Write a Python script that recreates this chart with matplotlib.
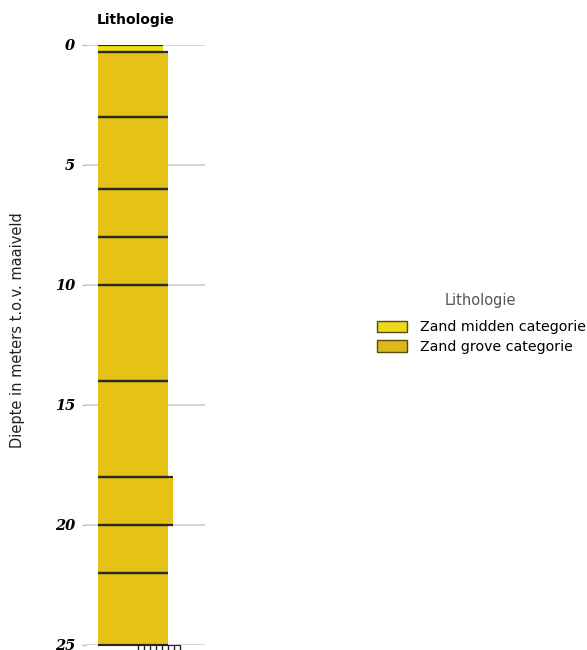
import matplotlib
matplotlib.use("Agg")
import matplotlib.pyplot as plt
from matplotlib.patches import Patch

# layer data: top depth, bottom depth, relative width, lithology
tops    = [0.0, 0.3, 3.0, 6.0, 8.0, 10.0, 14.0, 18.0, 20.0, 22.0]
bottoms = [0.3, 3.0, 6.0, 8.0, 10.0, 14.0, 18.0, 20.0, 22.0, 25.0]
widths  = [2.8, 3.0, 3.0, 3.0, 3.0, 3.0, 3.0, 3.2, 3.0, 3.0]
liths   = ["Zand midden categorie"] + ["Zand grove categorie"] * 9

lith_names  = ["Zand midden categorie", "Zand grove categorie"]
lith_colors = {"Zand midden categorie": "#f2e10c",
               "Zand grove categorie": "#e6c217"}
legend_colors = {"Zand midden categorie": "#ecd81c",
                 "Zand grove categorie": "#dcb81c"}

yticks = [0, 5, 10, 15, 20, 25]
xticks_bottom = [1.7, 1.96, 2.22, 2.48, 2.74, 3.0, 3.26, 3.5]

W, H = 587, 650
fig = plt.figure(figsize=(W/100, H/100), dpi=100)
ax = fig.add_axes([86/W, 1-645/H, (205-86)/W, (645-45)/H])

for t, b, w, l in zip(tops, bottoms, widths, liths):
    ax.fill_between([0, w], t, b, color=lith_colors[l], lw=0, zorder=2)
for t, b, w, l in zip(tops, bottoms, widths, liths):
    ax.hlines([t, b], 0, w, color="#2a2a22", lw=1.6, zorder=3)

ax.set_xlim(-0.51, 4.59)
ax.set_ylim(25, 0)
ax.set_yticks(yticks)
ax.set_yticklabels([str(v) for v in yticks], fontfamily="DejaVu Serif",
                   fontweight="heavy", fontstyle="italic", fontsize=10.5)
ax.tick_params(axis="y", length=3, color="#bbbbbb", pad=5, width=1)
ax.grid(axis="y", color="#cccccc", lw=1.2, zorder=0)
ax.set_axisbelow(True)

for s in ["top", "right", "left"]:
    ax.spines[s].set_visible(False)
ax.spines["bottom"].set_bounds(0, 3.5)
ax.spines["bottom"].set_color("#222222")
ax.spines["bottom"].set_zorder(4)
ax.set_xticks(xticks_bottom)
ax.set_xticklabels([])
ax.tick_params(axis="x", length=4, color="#222222", width=1)

fig.text(97/W, 1-20/H, "Lithologie", fontsize=10, fontweight="heavy",
         ha="left", va="center")
fig.text(18/W, 1-330/H, "Diepte in meters t.o.v. maaiveld", fontsize=10.5,
         rotation=90, ha="center", va="center", color="#222222")

# legend
fig.text(480/W, 1-300/H, "Lithologie", fontsize=10.5, color="#555555",
         ha="center", va="center")
handles = [Patch(facecolor=legend_colors[n], edgecolor="#5a4a10", lw=1)
           for n in lith_names]
leg = fig.legend(handles, lith_names, loc="upper left",
                 bbox_to_anchor=(366/W, 1-309/H), frameon=False,
                 fontsize=10.2, handlelength=2.1, borderpad=0.3,
                 handleheight=0.9, labelspacing=0.4, handletextpad=0.9)

fig.savefig("out.png", dpi=100)
